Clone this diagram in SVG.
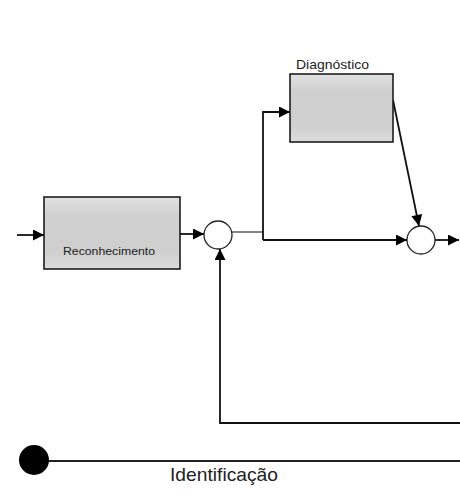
<svg xmlns="http://www.w3.org/2000/svg" width="460" height="499" viewBox="0 0 460 499">
  <style>
    .box { fill: url(#boxFill); stroke: #111; stroke-width: 1.5; }
    .sum { fill: #fff; stroke: #222; stroke-width: 1.3; }
    .wire { fill: none; stroke: #111; stroke-width: 1.8; }
    .thin { fill: none; stroke: #222; stroke-width: 1.1; }
    .arrow { marker-end: url(#head); }
    .label { font-family: "Liberation Sans", Arial, sans-serif; fill: #222; }
  </style>
  <defs>
    <linearGradient id="boxFill" x1="0" y1="0" x2="0" y2="1">
      <stop offset="0" stop-color="#e2e2e2"/>
      <stop offset="0.25" stop-color="#d0d0d0"/>
      <stop offset="0.75" stop-color="#cfcfcf"/>
      <stop offset="1" stop-color="#dcdcdc"/>
    </linearGradient>
    <marker id="head" viewBox="0 0 10 10" refX="10" refY="5" markerWidth="13" markerHeight="11" markerUnits="userSpaceOnUse" orient="auto">
      <path d="M0,0 L10,5 L0,10 z" fill="#000"/>
    </marker>
  </defs>

  <rect width="460" height="499" fill="#fff"/>

  <!-- connectors -->
  <g id="connectors">
    <line class="wire arrow" x1="17" y1="235" x2="44" y2="235"/>
    <line class="wire arrow" x1="180" y1="234" x2="204" y2="234"/>
    <polyline class="thin" points="232,232 263,232"/>
    <polyline class="wire arrow" points="263,240 263,112 290,112"/>
    <polyline class="wire arrow" points="263,240 407,240"/>
    <line class="wire arrow" x1="393" y1="100" x2="419" y2="226"/>
    <line class="wire arrow" x1="435" y1="240" x2="459" y2="240"/>
    <polyline class="wire arrow" points="460,423 220,423 220,249"/>
    <line x1="34" y1="461" x2="460" y2="461" stroke="#222" stroke-width="2"/>
  </g>

  <g id="reconhecimento">
    <rect class="box" x="44" y="197" width="136" height="72"/>
    <text class="label" x="63" y="255" font-size="11" textLength="92" lengthAdjust="spacingAndGlyphs" fill="#444">Reconhecimento</text>
  </g>

  <g id="diagnostico">
    <rect class="box" x="290" y="74" width="103" height="68"/>
    <text class="label" x="296" y="69" font-size="13" textLength="73" lengthAdjust="spacingAndGlyphs">Diagnóstico</text>
  </g>

  <g id="soma1">
    <circle class="sum" cx="218" cy="235" r="14"/>
  </g>

  <g id="soma2">
    <circle class="sum" cx="421" cy="240" r="14"/>
  </g>

  <g id="identificacao">
    <circle cx="34" cy="460" r="15" fill="#000"/>
    <text class="label" x="170" y="481" font-size="19" textLength="108" lengthAdjust="spacingAndGlyphs" fill="#555">Identificação</text>
  </g>
</svg>
